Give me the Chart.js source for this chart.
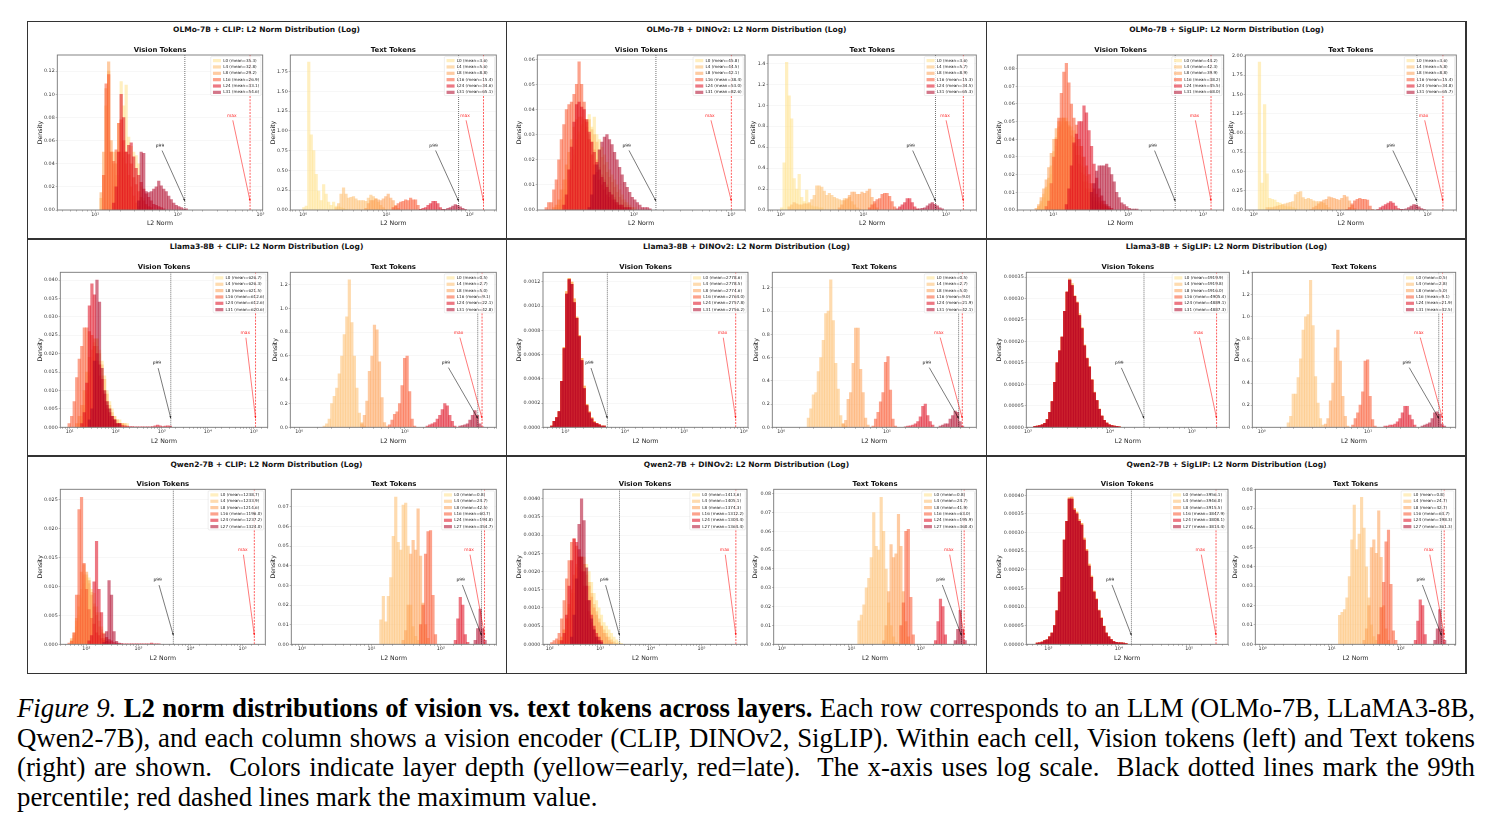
<!DOCTYPE html>
<html>
<head>
<meta charset="utf-8">
<title>L2 norm distributions</title>
<script src="https://cdn.jsdelivr.net/npm/chart.js@4"></script>
<style>
    html, body { margin: 0; padding: 0; background: #fff; }
    #page { position: relative; width: 1494px; height: 828px; overflow: hidden; }
    canvas { position: absolute; }
    .rule { position: absolute; background: #333; }
    .cell-title {
        position: absolute; width: 480px; text-align: center; transform: translateY(-50%);
        font: bold 7.5px "DejaVu Sans"; color: #111; white-space: nowrap;
    }
    .caption {
        position: absolute; left: 17px; width: 1458px; white-space: pre-wrap;
        font: 26.8px/30px "Liberation Serif"; color: #000; text-align: justify; text-align-last: justify;
    }
</style>
</head>
<body>
<div id="page"></div>
<script>
const olmoLayers = ['L0', 'L4', 'L8', 'L16', 'L24', 'L31'];
const llamaLayers = ['L0', 'L4', 'L8', 'L16', 'L24', 'L31'];
const qwenLayers = ['L0', 'L4', 'L8', 'L16', 'L24', 'L27'];

// every histogram uses this many log-spaced bins across its x range
const binCount = 82;

// --- OLMo-7B + CLIP ---
const olmoClipVisionMeans = [35.3, 32.8, 29.2, 26.9, 33.1, 54.6];
const olmoClipVisionMarks = [121.6, 750];
const olmoClipVisionAxis = [0.54, 3.028, 0.134, 0.02, 2];
const olmoClipVisionFirst = [21, 17, 17, 18, 22, 32];
const olmoClipVisionBars = [
    [.005, .02, .05, .075, .111, .09, .108, .063, .055, .05, .047, .04, .02, .01, .004, .002],
    [.01, .03, .09, .12, .05, .05, .03, .03, .06, .045, .04, .03, .02, .012, .006, .003],
    [.015, .05, .105, .128, .06, .04, .04, .05, .05, .05, .04, .03, .02, .012, .006, .003],
    [.03, .109, .117, .05, .042, .052, .075, .078, .06, .05, .048, .04, .028, .022, .016, .011, .008, .005, .003, .002],
    [.006, .02, .05, .1, .08, .05, .056, .058, .046, .036, .03, .024, .018, .014, .011, .008, .005, .004, .003, .002, .001],
    [.008, .05, .049, .016, .015, .016, .018, .02, .025, .021, .018, .016, .012, .009, .006, .004, .003, .002, .001, .001]
];
const olmoClipTextMeans = [3.6, 5.6, 8.8, 15.4, 34.6, 65.1];
const olmoClipTextMarks = [73.6, 146.6];
const olmoClipTextAxis = [-0.127, 2.32, 1.96, 0.25, 2];
const olmoClipTextFirst = [4, 17, 29, 40, 51, 60];
const olmoClipTextBars = [
    [.03, .05, 1.87, .95, .75, .45, .24, .12, .32, .2, .1, .06, .1, .05, .04, .03, .02, .01],
    [.03, .08, .2, .28, .2, .15, .16, .17, .14, .12, .12, .12, .11, .15, .19, .17, .14, .1, .06, .03, .01],
    [.02, .08, .12, .12, .14, .13, .12, .14, .17, .2, .15, .12, .06, .02],
    [.03, .05, .08, .1, .11, .13, .12, .15, .13, .13, .06, .01],
    [.01, .02, .03, .06, .08, .11, .11, .08, .03, .01],
    [.005, .01, .02, .03, .05, .07, .06, .04, .02, .01]
];

// --- OLMo-7B + DINOv2 ---
const olmoDinoVisionMeans = [45.8, 44.5, 42.1, 38.4, 53.0, 82.6];
const olmoDinoVisionMarks = [168, 1000];
const olmoDinoVisionAxis = [1.007, 3.14, 0.0617, 0.01, 2];
const olmoDinoVisionFirst = [8, 7, 6, 3, 10, 20];
const olmoDinoVisionBars = [
    [.001, .002, .005, .008, .012, .018, .022, .026, .03, .033, .035, .036, .038, .033, .037, .03, .028, .025, .022, .019, .016, .014, .012, .01, .008, .006, .004, .003, .002, .001, .001],
    [.001, .002, .004, .008, .012, .016, .02, .024, .028, .031, .034, .036, .036, .036, .032, .03, .027, .024, .021, .018, .015, .013, .011, .009, .007, .005, .004, .003, .002, .001, .001],
    [.001, .002, .004, .008, .012, .018, .023, .028, .033, .036, .037, .037, .036, .033, .03, .027, .024, .02, .017, .014, .012, .01, .008, .006, .005, .003, .002, .002, .001, .001],
    [.001, .003, .003, .008, .012, .02, .028, .034, .04, .042, .043, .046, .05, .059, .05, .043, .035, .028, .022, .018, .015, .012, .01, .008, .006, .005, .004, .003, .002, .001, .001],
    [.002, .006, .016, .025, .035, .042, .043, .041, .04, .036, .031, .027, .023, .019, .016, .013, .011, .009, .007, .006, .004, .003, .002, .002, .001, .001, .001],
    [.001, .006, .014, .018, .024, .027, .029, .03, .028, .026, .023, .02, .017, .014, .011, .009, .007, .005, .004, .003, .002, .001, .001, .001, .0005]
];
const olmoDinoTextMeans = [3.6, 5.7, 8.9, 15.3, 34.5, 65.3];
const olmoDinoTextMarks = [74.5, 162];
const olmoDinoTextAxis = [-0.127, 2.366, 1.48, 0.2, 1];
const olmoDinoTextFirst = [4, 7, 27, 39, 50, 58];
const olmoDinoTextBars = [
    [.02, .45, 1.41, 1.09, .87, .3, .2, .34, .12, .08, .19, .06, .04, .03, .03, .02, .02],
    [.03, .05, .07, .06, .05, .05, .06, .06, .07, .1, .14, .23, .23, .22, .18, .14, .16, .14, .12, .11, .1, .09, .11, .1, .12, .08, .05, .02, .01],
    [.02, .05, .09, .11, .14, .17, .17, .15, .15, .17, .16, .18, .2, .12, .06, .02],
    [.02, .05, .08, .1, .11, .15, .16, .16, .13, .08, .03],
    [.01, .03, .05, .07, .11, .11, .07, .03, .01],
    [.005, .01, .015, .02, .04, .06, .07, .055, .04, .02, .01]
];

// --- OLMo-7B + SigLIP ---
const olmoSiglipVisionMeans = [44.2, 42.3, 39.9, 38.2, 45.5, 68.0];
const olmoSiglipVisionMarks = [425, 1279];
const olmoSiglipVisionAxis = [0.519, 3.276, 0.0877, 0.01, 2];
const olmoSiglipVisionFirst = [8, 8, 7, 11, 19, 29];
const olmoSiglipVisionBars = [
    [.002, .004, .007, .012, .015, .02, .028, .036, .044, .048, .05, .052, .05, .047, .045, .04, .036, .03, .024, .019, .015, .012, .009, .007, .005, .004, .003, .002, .001],
    [.002, .005, .009, .013, .018, .025, .033, .041, .047, .05, .052, .05, .048, .045, .041, .036, .031, .025, .02, .016, .012, .009, .007, .005, .004, .003, .002, .001],
    [.001, .003, .007, .012, .017, .024, .032, .04, .046, .05, .052, .052, .05, .047, .042, .037, .031, .026, .021, .016, .012, .01, .007, .005, .004, .003, .002, .001],
    [.002, .005, .015, .03, .04, .052, .066, .078, .083, .072, .06, .052, .048, .04, .036, .03, .025, .02, .015, .012, .009, .007, .005, .003, .002, .001],
    [.003, .012, .025, .038, .043, .05, .05, .059, .055, .045, .036, .026, .018, .012, .008, .005, .003, .002, .001],
    [.01, .015, .022, .025, .025, .025, .026, .024, .02, .016, .01, .007, .004, .003, .002, .001, .0005, .0005, .0005]
];
const olmoSiglipTextMeans = [3.6, 5.8, 8.8, 15.4, 34.8, 65.7];
const olmoSiglipTextMarks = [75.3, 150];
const olmoSiglipTextAxis = [-0.096, 2.33, 2.013, 0.25, 2];
const olmoSiglipTextFirst = [5, 8, 25, 39, 51, 60];
const olmoSiglipTextBars = [
    [1.92, .35, 1.37, .47, .15, .14, .13, .1, .09, .07, .05, .04, .04, .03, .02],
    [.03, .03, .03, .04, .05, .06, .07, .08, .09, .1, .11, .2, .23, .24, .16, .14, .15, .14, .12, .11, .11, .1, .09, .06, .03, .01],
    [.01, .03, .05, .08, .11, .13, .14, .17, .16, .15, .14, .13, .15, .19, .17, .12, .06, .02],
    [.01, .03, .08, .12, .14, .15, .14, .14, .13, .05, .01],
    [.01, .03, .05, .07, .09, .11, .09, .05, .02, .01],
    [.005, .01, .015, .03, .05, .07, .065, .04, .02, .01]
];

// --- Llama3-8B + CLIP ---
const llamaClipVisionMeans = [626.7, 626.3, 621.5, 612.6, 612.6, 620.6];
const llamaClipVisionMarks = [1570, 108600];
const llamaClipVisionAxis = [0.797, 5.3, 0.0421, 0.005, 3];
const llamaClipVisionFirst = [7, 7, 6, 3, 8, 11];
const llamaClipVisionBars = [
    [.001, .002, .005, .009, .014, .018, .022, .024, .021, .018, .014, .01, .007, .005, .003, .002, .002, .001, .001, .001],
    [.001, .003, .006, .01, .015, .019, .023, .024, .02, .017, .013, .009, .006, .004, .003, .002, .001, .001, .001],
    [.001, .003, .006, .01, .015, .019, .021, .024, .022, .018, .014, .01, .007, .005, .003, .002, .001, .001, .001],
    [.001, .003, .007, .0135, .0185, .022, .027, .027, .026, .025, .022, .018, .014, .01, .007, .005, .003, .002, .001],
    [.001, .004, .012, .033, .039, .036, .02, .017, .013, .009, .006, .004, .003, .002, .001, .001, .0005, .0004, .0003, .0002, .0002, .0001, .0001, .0001, .0001, .0001, .0001, .0001, .0002, .0004, .0006, .0004, .0002, .0003, .0004, .0003],
    [.002, .005, .018, .04, .034, .016, .01, .007, .005, .003, .002, .001, .001]
];
const llamaClipTextMeans = [0.5, 2.7, 5.0, 9.1, 22.1, 42.8];
const llamaClipTextMarks = [48.8, 53.6];
const llamaClipTextAxis = [-0.085, 1.864, 1.304, 0.2, 1];
const llamaClipTextFirst = [0, 13, 28, 39, 54, 67];
const llamaClipTextBars = [
    [],
    [.01, .03, .07, .2, .26, .33, .45, .6, .78, .93, 1.24, .88, .6, .33, .12, .04, .01],
    [.03, .1, .22, .47, .6, .86, .82, .55, .25, .04, .01],
    [.02, .06, .11, .13, .2, .35, .58, .6, .3, .07, .01],
    [.01, .02, .03, .04, .07, .1, .15, .2, .18, .1, .05, .01],
    [.01, .015, .02, .03, .06, .1, .14, .1, .03, .005]
];

// --- Llama3-8B + DINOv2 ---
const llamaDinoVisionMeans = [2778.6, 2778.5, 2774.6, 2764.0, 2757.8, 2756.2];
const llamaDinoVisionMarks = [5090, 734500];
const llamaDinoVisionAxis = [2.624, 6.073, 0.00128, 0.0002, 4];
const llamaDinoVisionFirst = [3, 3, 3, 3, 3, 3];
const llamaDinoVisionEarly = [.00001, .00005, .00008, .00013, .00038, .00066, .00112, .00123, .0012, .00106, .00091, .00076, .00057, .00034, .00019, .00013, .00008, .00005, .00003, .00002, .00001, .00001];
const llamaDinoVisionLate = [.00001, .00005, .00008, .00013, .00038, .00065, .0011, .00122, .00118, .00103, .0009, .00075, .00055, .00032, .00018, .00012, .00007, .00004, .00003, .00002, .00001, .00001];
const llamaDinoVisionBars = [llamaDinoVisionEarly, llamaDinoVisionEarly, llamaDinoVisionEarly, llamaDinoVisionLate, llamaDinoVisionLate, llamaDinoVisionLate];
const llamaDinoTextMeans = [0.5, 2.7, 5.0, 9.0, 21.9, 42.1];
const llamaDinoTextMarks = [47.6, 51.6];
const llamaDinoTextAxis = [-0.085, 1.845, 1.335, 0.2, 1];
const llamaDinoTextFirst = [0, 14, 28, 40, 53, 67];
const llamaDinoTextBars = [
    [],
    [.08, .16, .28, .3, .48, .6, .75, .98, 1.0, 1.27, .92, .55, .33, .1, .03, .01],
    [.03, .06, .24, .3, .55, .855, .855, .5, .3, .08, .02],
    [.01, .07, .13, .22, .3, .56, .61, .32, .07, .01],
    [.005, .01, .012, .02, .03, .05, .09, .18, .2, .1, .05, .02],
    [.01, .02, .03, .03, .07, .1, .14, .13, .05, .01]
];

// --- Llama3-8B + SigLIP ---
const llamaSiglipVisionMeans = [4919.9, 4919.8, 4916.0, 4905.4, 4889.1, 4887.3];
const llamaSiglipVisionMarks = [26000, 199500];
const llamaSiglipVisionAxis = [2.98, 5.455, 0.000361, 0.00005, 5];
const llamaSiglipVisionFirst = [3, 3, 3, 3, 3, 3];
const llamaSiglipVisionEarly = [.000002, .000003, .000004, .000006, .000009, .000018, .000035, .00006, .000105, .00015, .000178, .00021, .00027, .000315, .000346, .000335, .000307, .000292, .000265, .000233, .000192, .000162, .000142, .000112, .000082, .000063, .000043, .000026, .000016, .00001, .000006, .000004, .000003, .000002, .000001];
const llamaSiglipVisionLate = [.000002, .000003, .000004, .000006, .000009, .000018, .000035, .00006, .000105, .00015, .000178, .00021, .00027, .000315, .000343, .00033, .000305, .00029, .00026, .00023, .00019, .00016, .00014, .00011, .00008, .000062, .000042, .000026, .000016, .00001, .000006, .000004, .000003, .000002, .000001];
const llamaSiglipVisionBars = [llamaSiglipVisionEarly, llamaSiglipVisionEarly, llamaSiglipVisionLate, llamaSiglipVisionLate, llamaSiglipVisionLate, llamaSiglipVisionLate];
const llamaSiglipTextMeans = [0.5, 2.8, 5.0, 9.1, 21.9, 42.5];
const llamaSiglipTextMarks = [46.2, 50.1];
const llamaSiglipTextAxis = [-0.088, 1.824, 1.403, 0.2, 1];
const llamaSiglipTextFirst = [0, 14, 29, 40, 53, 68];
const llamaSiglipTextBars = [
    [],
    [.04, .1, .3, .3, .45, .62, .88, 1.0, 1.02, 1.33, .92, .46, .22, .08, .02],
    [.03, .08, .24, .4, .72, .88, .6, .28, .1, .01],
    [.02, .08, .13, .2, .32, .6, .61, .28, .07, .01],
    [.01, .01, .02, .02, .03, .05, .08, .13, .19, .19, .11, .07, .02],
    [.01, .02, .03, .04, .08, .13, .14, .12, .03, .01]
];

// --- Qwen2-7B + CLIP ---
const qwenClipVisionMeans = [1238.7, 1233.9, 1214.6, 1196.0, 1237.2, 1324.0];
const qwenClipVisionMarks = [4680, 167900];
const qwenClipVisionAxis = [1.5, 5.436, 0.0268, 0.005, 3];
const qwenClipVisionFirst = [4, 4, 4, 3, 11, 17];
const qwenClipVisionBars = [
    [.0005, .001, .003, .005, .008, .0105, .0115, .0115, .0095, .0088, .0065, .0055, .003, .002, .001, .0005],
    [.0007, .0015, .004, .0065, .0095, .012, .012, .0105, .009, .007, .0055, .004, .0025, .001, .0005],
    [.001, .002, .0045, .0085, .0125, .0138, .0125, .011, .0085, .0065, .005, .003, .002, .001, .0005],
    [.0002, .0005, .002, .0085, .0233, .0254, .014, .0095, .006, .0045, .0035, .002, .0015, .001, .0007, .0005, .0003],
    [.0006, .0015, .0108, .0178, .0095, .0055, .0018, .0012, .0008, .0006, .0003, .0002, .0001, .0001, .0001, .0001, .0001, .0001, .0001, .0001, .0001, .0001, .0001, .0001, .0001, .0002, .0001, .0001, .0001],
    [.0003, .0022, .011, .0085, .0022, .0005, .0002, .0001]
];
const qwenClipTextMeans = [0.8, 24.7, 42.5, 60.7, 194.8, 354.7];
const qwenClipTextMarks = [386, 427];
const qwenClipTextAxis = [-0.134, 2.8, 0.079, 0.01, 2];
const qwenClipTextFirst = [0, 35, 44, 51, 65, 73];
const qwenClipTextBars = [
    [],
    [.0125, .0245, .0115, .0245, .034, .055, .075, .052, .048, .071, .072, .05, .02, .009, .004, .002],
    [.002, .007, .02, .046, .053, .048, .069, .045, .021, .01, .003],
    [.01, .02, .046, .0575, .058, .025, .005],
    [.002, .013, .024, .02, .005, .001],
    [.002, .008, .018, .008, .002]
];

// --- Qwen2-7B + DINOv2 ---
const qwenDinoVisionMeans = [1413.6, 1405.1, 1374.3, 1312.2, 1304.4, 1364.4];
const qwenDinoVisionMarks = [2400, 478600];
const qwenDinoVisionAxis = [1.868, 5.9, 0.00426, 0.0005, 4];
const qwenDinoVisionFirst = [7, 6, 6, 3, 7, 11];
const qwenDinoVisionBars = [
    [.0001, .0002, .0004, .0007, .001, .0014, .0018, .0021, .0024, .0024, .0022, .002, .0017, .0014, .0012, .001, .0008, .0006, .0005, .0004, .0003, .0002, .00012, .00007, .00003],
    [.0001, .0002, .0004, .0007, .001, .0014, .0018, .0021, .0024, .0024, .0022, .002, .0017, .0014, .0011, .0009, .0007, .0005, .0004, .0003, .0002, .00012, .00007, .00003],
    [.0001, .0002, .0004, .0007, .0011, .0015, .0019, .0022, .0024, .0024, .0022, .0019, .0016, .0013, .001, .0008, .0006, .0005, .0003, .0002, .0001, .00005],
    [.00005, .0001, .00015, .0003, .0007, .0012, .0018, .0023, .0028, .0029, .0027, .0024, .002, .0016, .0012, .0009, .0006, .0004, .0002, .0001],
    [.0001, .0003, .0008, .0016, .0023, .0029, .0028, .0026, .0024, .002, .0016, .0012, .0008, .0005, .0003, .0002, .0001],
    [.0002, .0008, .0018, .0033, .004, .0034, .0021, .0012, .0007, .0004, .0002, .0001, .00005]
];
const qwenDinoTextMeans = [0.8, 24.7, 41.9, 63.0, 195.9, 360.4];
const qwenDinoTextMarks = [385, 422];
const qwenDinoTextAxis = [-0.12, 2.8, 0.0823, 0.01, 2];
const qwenDinoTextFirst = [0, 34, 44, 51, 65, 73];
const qwenDinoTextBars = [
    [],
    [.0125, .0155, .021, .03, .035, .046, .07, .052, .05, .078, .06, .04, .022, .01, .004, .001],
    [.002, .01, .028, .053, .046, .048, .069, .052, .028, .012, .004],
    [.01, .022, .06, .061, .025, .005],
    [.002, .012, .024, .02, .005],
    [.002, .008, .018, .008, .002]
];

// --- Qwen2-7B + SigLIP ---
const qwenSiglipVisionMeans = [3956.1, 3946.0, 3915.5, 3847.9, 3808.1, 3814.4];
const qwenSiglipVisionMarks = [15100, 239900];
const qwenSiglipVisionAxis = [2.687, 5.55, 0.000416, 0.00005, 5];
const qwenSiglipVisionFirst = [4, 4, 4, 4, 4, 4];
const qwenSiglipVisionEarly = [.000003, .000004, .000006, .00001, .000012, .00002, .00003, .00005, .00009, .00014, .00018, .00028, .00033, .000393, .000395, .000365, .000355, .000335, .000325, .000285, .000255, .000215, .000183, .000143, .000122, .000092, .000072, .000049, .00003, .00002, .000013, .000007, .000005, .000004, .000004, .000003, .000002];
const qwenSiglipVisionLate = [.000003, .000004, .000006, .00001, .000012, .00002, .00003, .00005, .00009, .00014, .00018, .00028, .00033, .00039, .00039, .00036, .00035, .00033, .00032, .00028, .00025, .00021, .00018, .00014, .00012, .00009, .00007, .000048, .00003, .00002, .000013, .000007, .000005, .000004, .000004, .000003, .000002];
const qwenSiglipVisionBars = [qwenSiglipVisionEarly, qwenSiglipVisionEarly, qwenSiglipVisionEarly, qwenSiglipVisionLate, qwenSiglipVisionLate, qwenSiglipVisionLate];
const qwenSiglipTextMeans = [0.8, 24.7, 42.7, 63.7, 198.3, 361.3];
const qwenSiglipTextMarks = [389, 427];
const qwenSiglipTextAxis = [-0.106, 2.797, 0.0801, 0.01, 2];
const qwenSiglipTextFirst = [0, 34, 44, 50, 65, 73];
const qwenSiglipTextBars = [
    [],
    [.015, .0165, .018, .024, .035, .054, .072, .049, .057, .076, .06, .04, .024, .01, .004, .002],
    [.002, .008, .02, .05, .054, .047, .069, .045, .02, .008, .002],
    [.005, .019, .032, .053, .059, .031, .007, .002],
    [.002, .012, .023, .02, .005],
    [.002, .008, .018, .008, .002]
];

const cellTitles = [
    'OLMo-7B + CLIP: L2 Norm Distribution (Log)', 'OLMo-7B + DINOv2: L2 Norm Distribution (Log)', 'OLMo-7B + SigLIP: L2 Norm Distribution (Log)',
    'Llama3-8B + CLIP: L2 Norm Distribution (Log)', 'Llama3-8B + DINOv2: L2 Norm Distribution (Log)', 'Llama3-8B + SigLIP: L2 Norm Distribution (Log)',
    'Qwen2-7B + CLIP: L2 Norm Distribution (Log)', 'Qwen2-7B + DINOv2: L2 Norm Distribution (Log)', 'Qwen2-7B + SigLIP: L2 Norm Distribution (Log)'
];

const captionLines = [
    '<i>Figure 9.</i> <b>L2 norm distributions of vision vs. text tokens across layers.</b> Each row corresponds to an LLM (OLMo-7B, LLaMA3-8B,',
    'Qwen2-7B), and each column shows a vision encoder (CLIP, DINOv2, SigLIP). Within each cell, Vision tokens (left) and Text tokens',
    '(right) are shown.  Colors indicate layer depth (yellow=early, red=late).  The x-axis uses log scale.  Black dotted lines mark the 99th',
    'percentile; red dashed lines mark the maximum value.'
];

// colours run yellow to dark red with depth
const layerColors = [
    'rgba(255, 224, 130, 0.5)', 'rgba(254, 190, 110, 0.55)', 'rgba(253, 160, 85, 0.55)',
    'rgba(250, 85, 45, 0.55)', 'rgba(222, 10, 30, 0.55)', 'rgba(175, 5, 40, 0.55)'
];

// plot rectangles in page pixels: left, top, right, bottom, centre of the y title
const plotBoxes = [
    [57.3, 55, 262.7, 210, 39.7], [290.3, 55, 496.3, 210, 273],
    [537.3, 55, 745, 210, 519], [768, 55, 976.3, 210, 753],
    [1017.3, 55, 1223.7, 210, 999], [1245.3, 55, 1456.3, 210, 1231],
    [60.3, 272.3, 267.7, 427.3, 39.7], [290.3, 272.3, 496.3, 427.3, 274.7],
    [543, 272.3, 748, 427.3, 519], [772.3, 272.3, 976.3, 427.3, 756],
    [1026.3, 272.3, 1229.3, 427.3, 999], [1252.3, 272.3, 1455.7, 427.3, 1237],
    [60.3, 489.3, 265.3, 644.3, 39.7], [291.3, 489.3, 496.3, 644.3, 273],
    [543, 489.3, 747, 644.3, 519], [773.7, 489.3, 976.3, 644.3, 754.7],
    [1026.3, 489.3, 1228, 644.3, 999], [1255.3, 489.3, 1455.7, 644.3, 1235]
];

const page = document.getElementById('page');
const superDigits = '⁰¹²³⁴⁵⁶⁷⁸⁹';

function powerLabel(value) {
    const e = Math.log10(value);
    if (Math.abs(e - Math.round(e)) > 1e-6) return '';
    const digits = String(Math.round(e)).split('').map(d => superDigits[+d]).join('');
    return '10' + digits;
}

function drawArrow(ctx, fromX, fromY, toX, toY, color) {
    const angle = Math.atan2(toY - fromY, toX - fromX);
    // the line leaves the label a little below its text
    const startX = fromX + Math.cos(angle) * 5;
    const startY = fromY + Math.sin(angle) * 5;
    ctx.strokeStyle = color;
    ctx.fillStyle = color;
    ctx.lineWidth = 0.7;
    ctx.setLineDash([]);
    ctx.beginPath();
    ctx.moveTo(startX, startY);
    ctx.lineTo(toX, toY);
    ctx.stroke();
    ctx.beginPath();
    ctx.moveTo(toX, toY);
    ctx.lineTo(toX - 2.4 * Math.cos(angle - 0.45), toY - 2.4 * Math.sin(angle - 0.45));
    ctx.lineTo(toX - 2.4 * Math.cos(angle + 0.45), toY - 2.4 * Math.sin(angle + 0.45));
    ctx.closePath();
    ctx.fill();
}

// frame, percentile arrows and the small legend inside each axes
const panelDecor = {
    id: 'panelDecor',
    afterDatasetsDraw(chart, args, opts) {
        const { ctx, chartArea: area, scales } = chart;
        ctx.save();
        ctx.strokeStyle = '#777';
        ctx.lineWidth = 0.9;
        ctx.strokeRect(area.left, area.top, area.right - area.left, area.bottom - area.top);

        const arrowY = area.bottom - (area.bottom - area.top) * 0.058;
        const p99X = scales.x.getPixelForValue(opts.p99);
        const maxX = scales.x.getPixelForValue(opts.max);
        const p99LabelX = scales.x.getPixelForValue(opts.p99 * 0.5);
        const maxLabelX = scales.x.getPixelForValue(opts.max * 0.6);
        const p99LabelY = area.bottom - (area.bottom - area.top) * 0.413;
        const maxLabelY = area.bottom - (area.bottom - area.top) * 0.61;
        drawArrow(ctx, p99LabelX, p99LabelY, p99X, arrowY, 'rgba(0, 0, 0, 0.75)');
        drawArrow(ctx, maxLabelX, maxLabelY, maxX, arrowY, 'rgba(255, 0, 0, 0.75)');
        ctx.font = '4.4px "DejaVu Sans"';
        ctx.textAlign = 'center';
        ctx.textBaseline = 'middle';
        ctx.fillStyle = '#222';
        ctx.fillText('p99', p99LabelX, p99LabelY);
        ctx.fillStyle = '#f22';
        ctx.fillText('max', maxLabelX, maxLabelY);

        ctx.font = '4.1px "DejaVu Sans"';
        const textWidth = Math.max(...opts.labels.map(t => ctx.measureText(t).width));
        const boxW = textWidth + 14;
        const boxH = 39;
        const boxX = area.right - boxW - 1.8;
        const boxY = area.top + 1.6;
        ctx.fillStyle = 'rgba(255, 255, 255, 0.8)';
        ctx.strokeStyle = 'rgba(200, 200, 200, 0.8)';
        ctx.lineWidth = 0.4;
        ctx.beginPath();
        ctx.roundRect(boxX, boxY, boxW, boxH, 1);
        ctx.fill();
        ctx.stroke();
        ctx.textAlign = 'left';
        opts.labels.forEach((label, i) => {
            const rowY = boxY + 4 + i * 6.35;
            ctx.fillStyle = layerColors[i];
            ctx.fillRect(boxX + 2.2, rowY - 1.6, 8, 3.2);
            ctx.fillStyle = '#222';
            ctx.fillText(label, boxX + 12.4, rowY);
        });
        ctx.restore();
    }
};

function drawPanel(index, subtitle, layers, means, marks, axis, first, bars) {
    const [plotLeft, plotTop, plotRight, plotBottom, yTitleX] = plotBoxes[index];
    const [logMin, logMax, yMax, yStep, yDecimals] = axis;
    const binWidth = (logMax - logMin) / binCount;

    const canvas = document.createElement('canvas');
    const canvasLeft = Math.round(yTitleX - 3);
    const canvasTop = Math.round(plotTop - 8);
    const canvasWidth = Math.ceil(plotRight) + 5 - canvasLeft;
    const canvasHeight = Math.ceil(plotBottom) + 18 - canvasTop;
    canvas.width = canvasWidth;
    canvas.height = canvasHeight;
    canvas.style.left = canvasLeft + 'px';
    canvas.style.top = canvasTop + 'px';
    page.appendChild(canvas);

    const datasets = bars.map((heights, s) => ({
        type: 'bar',
        data: heights.map((h, i) => ({ x: Math.pow(10, logMin + (first[s] + i + 0.5) * binWidth), y: h })),
        backgroundColor: layerColors[s],
        borderWidth: 0,
        grouped: false,
        // a touch wider than a bin so neighbouring bars leave no seam
        barThickness: (plotRight - plotLeft) / binCount + 0.04,
        order: 6 - s + 1
    }));
    datasets.push({
        type: 'line',
        data: [{ x: marks[0], y: 0 }, { x: marks[0], y: yMax }],
        borderColor: 'rgba(0, 0, 0, 0.8)',
        borderWidth: 0.7,
        borderDash: [1, 1],
        pointRadius: 0,
        order: 0
    });
    datasets.push({
        type: 'line',
        data: [{ x: marks[1], y: 0 }, { x: marks[1], y: yMax }],
        borderColor: 'rgba(255, 0, 0, 0.8)',
        borderWidth: 0.8,
        borderDash: [2, 1.2],
        pointRadius: 0,
        order: 0
    });

    new Chart(canvas, {
        type: 'bar',
        data: { datasets },
        plugins: [panelDecor],
        options: {
            responsive: false,
            animation: false,
            events: [],
            layout: {
                autoPadding: false,
                padding: { left: 0, top: 0, bottom: 0, right: canvasLeft + canvasWidth - plotRight }
            },
            plugins: {
                legend: { display: false },
                tooltip: { enabled: false },
                title: {
                    display: true,
                    text: subtitle,
                    fullSize: false,
                    color: '#111',
                    font: { family: 'DejaVu Sans', size: 6.9, weight: 'bold', lineHeight: 1 },
                    padding: { top: 0, bottom: plotTop - canvasTop - 6.9 }
                },
                panelDecor: {
                    p99: marks[0],
                    max: marks[1],
                    labels: layers.map((name, i) => name + ' (mean=' + means[i].toFixed(1) + ')')
                }
            },
            scales: {
                x: {
                    type: 'logarithmic',
                    offset: false,
                    min: Math.pow(10, logMin),
                    max: Math.pow(10, logMax),
                    afterFit: scale => { scale.height = canvasTop + canvasHeight - plotBottom; },
                    border: { display: false },
                    grid: { drawOnChartArea: false, offset: false, drawTicks: true, tickLength: 1.6, tickWidth: 0.4, tickColor: '#555' },
                    ticks: {
                        autoSkip: false, maxRotation: 0, minRotation: 0, padding: 0,
                        font: { family: 'DejaVu Sans', size: 4.8 }, color: '#333',
                        callback: value => powerLabel(value)
                    },
                    title: {
                        display: true, text: 'L2 Norm', color: '#222',
                        font: { family: 'DejaVu Sans', size: 6.2, lineHeight: 1 },
                        padding: { top: 0, bottom: 1.2 }
                    }
                },
                y: {
                    min: 0,
                    max: yMax,
                    afterFit: scale => { scale.width = plotLeft - canvasLeft; },
                    border: { display: false },
                    grid: { color: 'rgba(0, 0, 0, 0.06)', lineWidth: 0.6, tickLength: 1.6, tickWidth: 0.4, tickColor: '#555' },
                    ticks: {
                        stepSize: yStep, includeBounds: false, autoSkip: false, padding: 1,
                        font: { family: 'DejaVu Sans', size: 4.8 }, color: '#333',
                        callback: value => value.toFixed(yDecimals)
                    },
                    title: {
                        display: true, text: 'Density', color: '#222',
                        font: { family: 'DejaVu Sans', size: 6.2, lineHeight: 1 },
                        padding: { top: 0, bottom: 0 }
                    }
                }
            }
        }
    });
}

function addRule(left, top, width, height) {
    const rule = document.createElement('div');
    rule.className = 'rule';
    rule.style.cssText = `left:${left}px;top:${top}px;width:${width}px;height:${height}px`;
    page.appendChild(rule);
}

function drawFrame() {
    [21, 238.3, 455.3, 672.6].forEach(y => addRule(26.5, y, 1440, 1.4));
    [26.5, 505.8, 985.8, 1465.4].forEach(x => addRule(x, 21, 1.4, 653));
    const centresY = [29, 246, 463.7];
    const centresX = [266.5, 746.5, 1226.5];
    cellTitles.forEach((text, i) => {
        const title = document.createElement('div');
        title.className = 'cell-title';
        title.textContent = text;
        title.style.left = (centresX[i % 3] - 240) + 'px';
        title.style.top = centresY[Math.floor(i / 3)] + 'px';
        page.appendChild(title);
    });
}

function drawCaption() {
    captionLines.forEach((html, i) => {
        const line = document.createElement('div');
        line.className = 'caption';
        line.innerHTML = html;
        line.style.top = (693 + i * 29.6) + 'px';
        if (i === captionLines.length - 1) line.style.textAlignLast = 'left';
        page.appendChild(line);
    });
}

drawFrame();
drawPanel(0, 'Vision Tokens', olmoLayers, olmoClipVisionMeans, olmoClipVisionMarks, olmoClipVisionAxis, olmoClipVisionFirst, olmoClipVisionBars);
drawPanel(1, 'Text Tokens', olmoLayers, olmoClipTextMeans, olmoClipTextMarks, olmoClipTextAxis, olmoClipTextFirst, olmoClipTextBars);
drawPanel(2, 'Vision Tokens', olmoLayers, olmoDinoVisionMeans, olmoDinoVisionMarks, olmoDinoVisionAxis, olmoDinoVisionFirst, olmoDinoVisionBars);
drawPanel(3, 'Text Tokens', olmoLayers, olmoDinoTextMeans, olmoDinoTextMarks, olmoDinoTextAxis, olmoDinoTextFirst, olmoDinoTextBars);
drawPanel(4, 'Vision Tokens', olmoLayers, olmoSiglipVisionMeans, olmoSiglipVisionMarks, olmoSiglipVisionAxis, olmoSiglipVisionFirst, olmoSiglipVisionBars);
drawPanel(5, 'Text Tokens', olmoLayers, olmoSiglipTextMeans, olmoSiglipTextMarks, olmoSiglipTextAxis, olmoSiglipTextFirst, olmoSiglipTextBars);
drawPanel(6, 'Vision Tokens', llamaLayers, llamaClipVisionMeans, llamaClipVisionMarks, llamaClipVisionAxis, llamaClipVisionFirst, llamaClipVisionBars);
drawPanel(7, 'Text Tokens', llamaLayers, llamaClipTextMeans, llamaClipTextMarks, llamaClipTextAxis, llamaClipTextFirst, llamaClipTextBars);
drawPanel(8, 'Vision Tokens', llamaLayers, llamaDinoVisionMeans, llamaDinoVisionMarks, llamaDinoVisionAxis, llamaDinoVisionFirst, llamaDinoVisionBars);
drawPanel(9, 'Text Tokens', llamaLayers, llamaDinoTextMeans, llamaDinoTextMarks, llamaDinoTextAxis, llamaDinoTextFirst, llamaDinoTextBars);
drawPanel(10, 'Vision Tokens', llamaLayers, llamaSiglipVisionMeans, llamaSiglipVisionMarks, llamaSiglipVisionAxis, llamaSiglipVisionFirst, llamaSiglipVisionBars);
drawPanel(11, 'Text Tokens', llamaLayers, llamaSiglipTextMeans, llamaSiglipTextMarks, llamaSiglipTextAxis, llamaSiglipTextFirst, llamaSiglipTextBars);
drawPanel(12, 'Vision Tokens', qwenLayers, qwenClipVisionMeans, qwenClipVisionMarks, qwenClipVisionAxis, qwenClipVisionFirst, qwenClipVisionBars);
drawPanel(13, 'Text Tokens', qwenLayers, qwenClipTextMeans, qwenClipTextMarks, qwenClipTextAxis, qwenClipTextFirst, qwenClipTextBars);
drawPanel(14, 'Vision Tokens', qwenLayers, qwenDinoVisionMeans, qwenDinoVisionMarks, qwenDinoVisionAxis, qwenDinoVisionFirst, qwenDinoVisionBars);
drawPanel(15, 'Text Tokens', qwenLayers, qwenDinoTextMeans, qwenDinoTextMarks, qwenDinoTextAxis, qwenDinoTextFirst, qwenDinoTextBars);
drawPanel(16, 'Vision Tokens', qwenLayers, qwenSiglipVisionMeans, qwenSiglipVisionMarks, qwenSiglipVisionAxis, qwenSiglipVisionFirst, qwenSiglipVisionBars);
drawPanel(17, 'Text Tokens', qwenLayers, qwenSiglipTextMeans, qwenSiglipTextMarks, qwenSiglipTextAxis, qwenSiglipTextFirst, qwenSiglipTextBars);
drawCaption();
</script>
</body>
</html>
